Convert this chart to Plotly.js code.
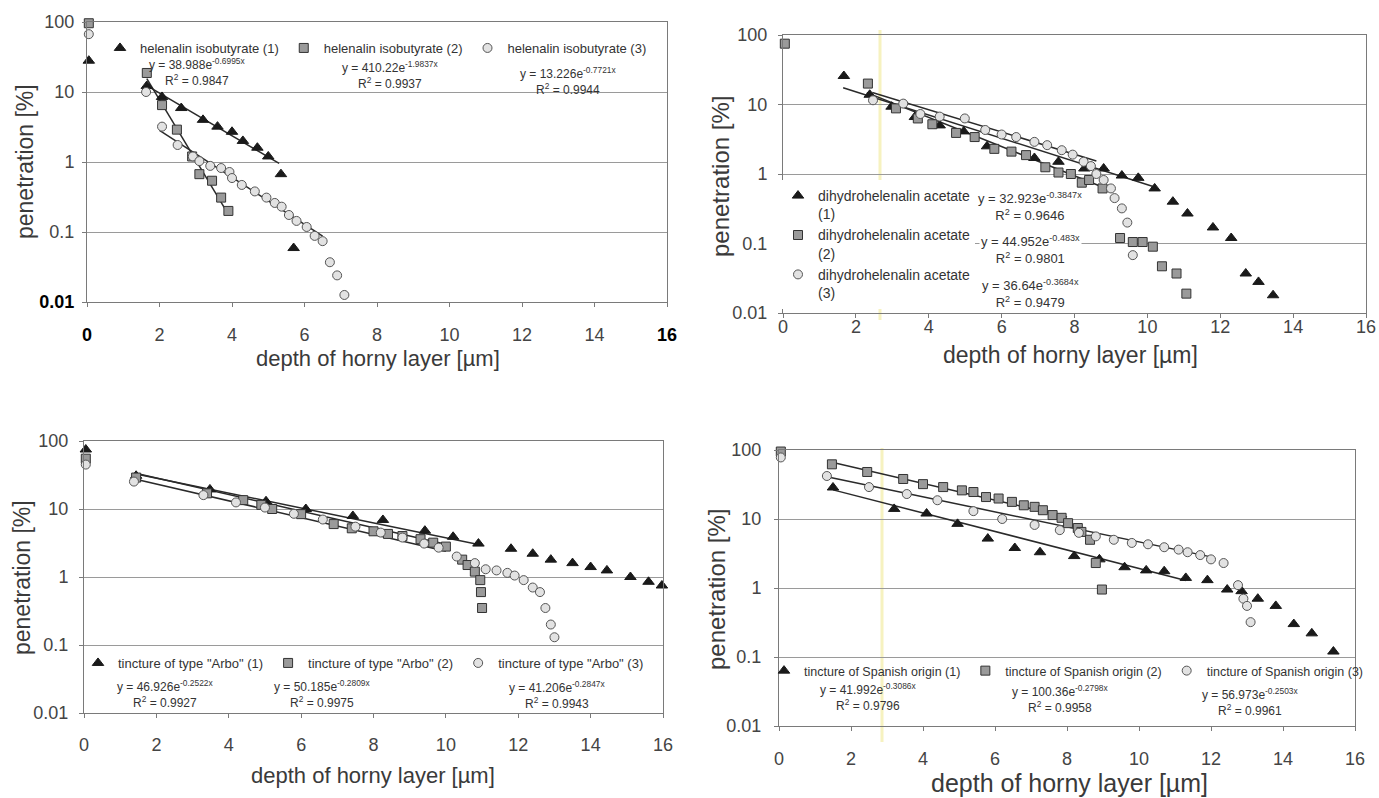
<!DOCTYPE html>
<html>
<head>
<meta charset="utf-8">
<script src="https://cdn.plot.ly/plotly-3.0.1.min.js"></script>
<style>html,body{margin:0;padding:0;background:#fff;overflow:hidden;}#chart{width:1379px;height:798px;}</style>
</head>
<body>
<div id="chart"></div>
<script>
// ---------- DATA ----------
const xTicks = [0, 2, 4, 6, 8, 10, 12, 14, 16];
const yTicks = [0.01, 0.1, 1, 10, 100];
const yTickText = ["0.01", "0.1", "1", "10", "100"];

// Panel A: helenalin isobutyrate
const hibNames = ["helenalin isobutyrate (1)", "helenalin isobutyrate (2)", "helenalin isobutyrate (3)"];
const hib1X = [0.05, 1.65, 2.07, 2.6, 3.2, 3.6, 4.0, 4.3, 4.7, 5.0, 5.35, 5.7];
const hib1Y = [28, 12.2, 8.5, 5.9, 4.0, 3.2, 2.7, 2.0, 1.6, 1.2, 0.67, 0.059];
const hib2X = [0.05, 1.65, 2.07, 2.48, 2.9, 3.1, 3.45, 3.7, 3.9];
const hib2Y = [96, 18.7, 6.5, 2.9, 1.2, 0.67, 0.54, 0.31, 0.2];
const hib3X = [0.05, 1.63, 2.07, 2.5, 2.92, 3.1, 3.4, 3.7, 3.93, 4.0, 4.27, 4.63, 4.95, 5.18, 5.37, 5.57, 5.78, 6.06, 6.28, 6.5, 6.7, 6.9, 7.1];
const hib3Y = [67, 10, 3.2, 1.75, 1.2, 1.03, 0.88, 0.82, 0.72, 0.59, 0.47, 0.38, 0.31, 0.26, 0.23, 0.175, 0.144, 0.118, 0.088, 0.074, 0.037, 0.024, 0.0126];
const hibA = [38.988, 410.22, 13.226];
const hibB = [-0.6995, -1.9837, -0.7721];
const hibR2 = ["0.9847", "0.9937", "0.9944"];
const hibFitFrom = [1.65, 1.65, 2.0];
const hibFitTo = [5.3, 3.9, 6.5];

// Panel B: dihydrohelenalin acetate
const dhaNames = ["dihydrohelenalin acetate<br>(1)", "dihydrohelenalin acetate<br>(2)", "dihydrohelenalin acetate<br>(3)"];
const dha1X = [1.67, 2.38, 2.98, 3.62, 4.3, 4.96, 5.6, 6.9, 7.56, 8.27, 8.8, 9.3, 9.75, 10.2, 10.7, 11.1, 11.8, 12.3, 12.7, 13.05, 13.45];
const dha1Y = [25.7, 13.8, 9.3, 6.6, 5.0, 4.1, 2.5, 1.7, 1.5, 1.2, 1.2, 0.95, 0.88, 0.62, 0.4, 0.27, 0.17, 0.12, 0.037, 0.028, 0.018];
const dha2X = [0.05, 2.33, 3.1, 3.7, 4.1, 4.75, 5.26, 5.8, 6.27, 6.67, 7.2, 7.56, 7.9, 8.2, 8.4, 8.77, 9.25, 9.6, 9.87, 10.15, 10.4, 10.8, 11.07];
const dha2Y = [75, 20, 8.8, 6.3, 5.2, 3.9, 3.4, 2.3, 2.1, 1.87, 1.25, 1.05, 1.0, 0.75, 0.82, 0.62, 0.12, 0.105, 0.105, 0.09, 0.047, 0.037, 0.019];
const dha3X = [2.47, 3.3, 3.77, 4.3, 4.99, 5.55, 6.0, 6.4, 6.9, 7.25, 7.65, 7.95, 8.25, 8.45, 8.6, 8.8, 9.0, 9.1, 9.3, 9.45, 9.6];
const dha3Y = [11.5, 10.3, 7.3, 6.7, 6.3, 4.3, 3.7, 3.4, 2.9, 2.6, 2.2, 1.9, 1.5, 1.3, 1.0, 0.82, 0.62, 0.45, 0.32, 0.2, 0.068];
const dhaA = [32.923, 44.952, 36.64];
const dhaB = [-0.3847, -0.483, -0.3684];
const dhaR2 = ["0.9646", "0.9801", "0.9479"];
const dhaFitFrom = [1.65, 2.3, 2.45];
const dhaFitTo = [10.2, 8.8, 8.6];

// Panel C: tincture of type "Arbo"
const arbNames = ["tincture of type \"Arbo\" (1)", "tincture of type \"Arbo\" (2)", "tincture of type \"Arbo\" (3)"];
const arb1X = [0.05, 1.44, 3.48, 5.03, 6.13, 7.43, 8.26, 9.42, 10.2, 10.9, 11.8, 12.4, 12.9, 13.5, 14.0, 14.45, 15.1, 15.6, 15.97];
const arb1Y = [75, 30.8, 19.4, 13, 10, 7.9, 6.9, 4.8, 3.9, 3.1, 2.6, 2.2, 1.8, 1.6, 1.4, 1.25, 1.0, 0.85, 0.75];
const arb2X = [0.05, 1.44, 3.4, 4.4, 4.9, 5.2, 6.0, 6.9, 7.4, 8.0, 8.4, 8.8, 9.3, 9.65, 10.0, 10.45, 10.6, 10.8, 10.95, 10.97, 11.0];
const arb2Y = [55, 29, 17, 13.5, 11.5, 10, 8.4, 6, 5.2, 4.7, 4.3, 4.0, 3.6, 3.2, 2.8, 1.8, 1.5, 1.2, 0.9, 0.6, 0.35];
const arb3X = [0.05, 1.38, 3.3, 4.2, 5.0, 5.8, 6.6, 7.5, 8.2, 8.8, 9.4, 9.8, 10.3, 10.8, 11.1, 11.4, 11.7, 11.9, 12.15, 12.4, 12.6, 12.75, 12.9, 13.0];
const arb3Y = [45, 25.3, 16, 12.5, 10.5, 8.5, 7, 5.5, 4.5, 3.8, 3.1, 2.7, 2.0, 1.6, 1.3, 1.25, 1.15, 1.05, 0.9, 0.7, 0.6, 0.35, 0.2, 0.13];
const arbA = [46.926, 50.185, 41.206];
const arbB = [-0.2522, -0.2809, -0.2847];
const arbR2 = ["0.9927", "0.9975", "0.9943"];
const arbFitFrom = [1.44, 1.4, 1.4];
const arbFitTo = [10.9, 10.0, 10.0];

// Panel D: tincture of Spanish origin
const spaNames = ["tincture of Spanish origin (1)", "tincture of Spanish origin (2)", "tincture of Spanish origin (3)"];
const spa1X = [1.5, 3.2, 4.1, 4.96, 5.8, 6.55, 7.25, 8.2, 8.9, 9.6, 10.2, 10.7, 11.3, 11.9, 12.45, 12.85, 13.3, 13.8, 14.3, 14.8, 15.4];
const spa1Y = [28.6, 14, 12, 8.5, 5.2, 3.8, 3.3, 2.9, 2.6, 2.0, 1.8, 1.75, 1.4, 1.3, 0.95, 0.9, 0.7, 0.55, 0.3, 0.22, 0.12];
const spa2X = [0.05, 1.47, 2.45, 3.45, 4.0, 4.56, 5.08, 5.4, 5.75, 6.1, 6.47, 6.8, 7.1, 7.33, 7.6, 7.85, 8.03, 8.3, 8.4, 8.64, 8.8, 8.97];
const spa2Y = [95, 62, 48, 38, 32, 29, 26, 24.6, 20.8, 19.8, 17.7, 15.8, 15, 13.4, 11.4, 10.4, 8.7, 7.4, 6.5, 5.0, 2.3, 0.95];
const spa3X = [0.05, 1.33, 2.5, 3.55, 4.4, 5.4, 6.2, 7.1, 7.8, 8.33, 8.8, 9.3, 9.8, 10.25, 10.7, 11.1, 11.35, 11.7, 12.0, 12.35, 12.75, 12.9, 13.0, 13.1];
const spa3Y = [78, 42, 29, 23, 18.7, 13, 10, 8.2, 6.9, 6.3, 5.6, 5.0, 4.5, 4.3, 3.9, 3.6, 3.3, 3.0, 2.6, 2.3, 1.1, 0.7, 0.55, 0.32];
const spaA = [41.992, 100.36, 56.973];
const spaB = [-0.3086, -0.2798, -0.2503];
const spaR2 = ["0.9796", "0.9958", "0.9961"];
const spaFitFrom = [1.5, 1.47, 1.33];
const spaFitTo = [11.3, 8.0, 12.0];

const xTitle = "depth of horny layer [µm]";
const yTitle = "penetration [%]";

// ---------- STYLE / BUILD ----------
const W = 1379, H = 798;
const px = v => v / W;
const py = v => 1 - v / H;
const FONT = "Liberation Sans, Arial, sans-serif";
const TXT = "#3a3a3a";

const markerStyles = [
  {symbol: "triangle-up", size: 10, color: "#1a1a1a", line: {color: "#1a1a1a", width: 1}},
  {symbol: "square", size: 9, color: "#9a9a9a", line: {color: "#333", width: 1}},
  {symbol: "circle", size: 9, color: "#e2e2e2", line: {color: "#555", width: 1}}
];

const panels = [
  {xs: [hib1X, hib2X, hib3X], ys: [hib1Y, hib2Y, hib3Y], names: hibNames, A: hibA, B: hibB, R2: hibR2, f0: hibFitFrom, f1: hibFitTo,
   xa: "x", ya: "y", legend: "legend",
   dom: {x: [87, 667], y: [22, 302]}, xStand: 12, yStand: 4,
   eq: [[197, 72], [390, 75], [568, 81]], eqSize: 12, eqBg: "rgba(0,0,0,0)",
   yt: [25, 162, 23], xt: [378, 358, 22]},
  {xs: [dha1X, dha2X, dha3X], ys: [dha1Y, dha2Y, dha3Y], names: dhaNames, A: dhaA, B: dhaB, R2: dhaR2, f0: dhaFitFrom, f1: dhaFitTo,
   xa: "x2", ya: "y2", legend: "legend2",
   dom: {x: [783, 1366], y: [35, 313]}, xStand: -7, yStand: 7,
   eq: [[1030, 206], [1030, 250], [1030, 293]], eqSize: 13, eqBg: "#ffffff",
   yt: [720, 176, 24], xt: [1070, 355, 23]},
  {xs: [arb1X, arb2X, arb3X], ys: [arb1Y, arb2Y, arb3Y], names: arbNames, A: arbA, B: arbB, R2: arbR2, f0: arbFitFrom, f1: arbFitTo,
   xa: "x3", ya: "y3", legend: "legend3",
   dom: {x: [84, 663], y: [441, 713]}, xStand: 11, yStand: 7,
   eq: [[165, 694], [322, 694], [557, 695]], eqSize: 12, eqBg: "rgba(0,0,0,0)",
   yt: [22, 578, 23], xt: [373, 775, 22]},
  {xs: [spa1X, spa2X, spa3X], ys: [spa1Y, spa2Y, spa3Y], names: spaNames, A: spaA, B: spaB, R2: spaR2, f0: spaFitFrom, f1: spaFitTo,
   xa: "x4", ya: "y4", legend: "legend4",
   dom: {x: [779, 1355], y: [450, 726]}, xStand: 12, yStand: 9,
   eq: [[868, 697], [1060, 699], [1250, 702]], eqSize: 12, eqBg: "rgba(0,0,0,0)",
   yt: [716, 590, 24], xt: [1069, 783, 25]}
];

const traces = [];
const annotations = [];
const layout = {
  width: W, height: H,
  margin: {l: 0, r: 0, t: 0, b: 0, pad: 0, autoexpand: false},
  paper_bgcolor: "#ffffff", plot_bgcolor: "rgba(0,0,0,0)",
  font: {family: FONT, color: TXT},
  showlegend: true,
  annotations: annotations,
  shapes: [
    {type: "line", xref: "paper", yref: "paper", x0: px(880), x1: px(880), y0: py(320), y1: py(30),
     line: {color: "rgba(238,232,140,0.55)", width: 3}, layer: "below"},
    {type: "line", xref: "paper", yref: "paper", x0: px(882), x1: px(882), y0: py(742), y1: py(448),
     line: {color: "rgba(238,232,140,0.55)", width: 3}, layer: "below"}
  ]
};

function fmtExp(b) { return (b < 0 ? "-" : "") + Math.abs(b) + "x"; }

panels.forEach((p, pi) => {
  const suffix = pi === 0 ? "" : String(pi + 1);
  const xTickText = xTicks.map(String);
  let yTT = yTickText.slice();
  if (pi === 0) {
    xTickText[0] = "<b><span style='color:#000'>0</span></b>";
    xTickText[xTickText.length - 1] = "<b><span style='color:#000'>16</span></b>";
    yTT[0] = "<b><span style='color:#000'>0.01</span></b>";
  }
  layout["xaxis" + suffix] = {
    domain: [px(p.dom.x[0]), px(p.dom.x[1])], anchor: p.ya,
    range: [0, 16], tickmode: "array", tickvals: xTicks, ticktext: xTickText,
    showgrid: false, zeroline: false, showline: true, mirror: true,
    linecolor: "#7a7a7a", linewidth: 1, ticks: "outside", ticklen: 4, tickcolor: "#7a7a7a",
    tickfont: {size: 18, color: "#444", family: FONT}, ticklabelstandoff: p.xStand, fixedrange: true
  };
  layout["yaxis" + suffix] = {
    domain: [py(p.dom.y[1]), py(p.dom.y[0])], anchor: p.xa,
    type: "log", range: [-2, 2], tickmode: "array", tickvals: yTicks, ticktext: yTT,
    showgrid: true, gridcolor: "#9a9a9a", gridwidth: 1, zeroline: false,
    showline: true, mirror: true, linecolor: "#7a7a7a", linewidth: 1,
    ticks: "outside", ticklen: 4, tickcolor: "#7a7a7a",
    tickfont: {size: 18, color: "#444", family: FONT}, ticklabelstandoff: p.yStand, fixedrange: true
  };
  // fitted trend lines (from the printed regression equations)
  for (let s = 0; s < 3; s++) {
    const fx = [p.f0[s], p.f1[s]];
    traces.push({
      x: fx, y: fx.map(v => p.A[s] * Math.exp(p.B[s] * v)),
      xaxis: p.xa, yaxis: p.ya, mode: "lines", showlegend: false, hoverinfo: "skip",
      line: {color: "#2a2a2a", width: 1.5}
    });
  }
  // measured points
  for (let s = 0; s < 3; s++) {
    traces.push({
      x: p.xs[s], y: p.ys[s], name: p.names[s],
      xaxis: p.xa, yaxis: p.ya, mode: "markers", legend: p.legend,
      marker: markerStyles[s], cliponaxis: false
    });
  }
  // equations
  for (let s = 0; s < 3; s++) {
    annotations.push({
      xref: "paper", yref: "paper", x: px(p.eq[s][0]), y: py(p.eq[s][1]),
      xanchor: "center", yanchor: "middle", showarrow: false, align: "center",
      text: "y = " + p.A[s] + "e<sup>" + fmtExp(p.B[s]) + "</sup><br>R<sup>2</sup> = " + p.R2[s],
      font: {size: p.eqSize, color: "#333", family: FONT}, bgcolor: p.eqBg
    });
  }
  // axis titles
  annotations.push({
    xref: "paper", yref: "paper", x: px(p.yt[0]), y: py(p.yt[1]), xanchor: "center", yanchor: "middle",
    textangle: -90, showarrow: false, text: yTitle, font: {size: p.yt[2], color: "#3a3a3a", family: FONT}
  });
  annotations.push({
    xref: "paper", yref: "paper", x: px(p.xt[0]), y: py(p.xt[1]), xanchor: "center", yanchor: "middle",
    showarrow: false, text: xTitle, font: {size: p.xt[2], color: "#3a3a3a", family: FONT}
  });
});

layout.legend = {x: px(100), y: py(33), xanchor: "left", yanchor: "top", orientation: "h",
  font: {size: 13, color: "#333", family: FONT}, bgcolor: "rgba(0,0,0,0)", itemwidth: 30};
layout.legend2 = {x: px(778), y: py(180), xanchor: "left", yanchor: "top", orientation: "v", valign: "top",
  font: {size: 14, color: "#333", family: FONT}, bgcolor: "#ffffff", itemwidth: 30, tracegroupgap: 6};
layout.legend3 = {x: px(78), y: py(648), xanchor: "left", yanchor: "top", orientation: "h",
  font: {size: 13, color: "#333", family: FONT}, bgcolor: "rgba(0,0,0,0)", itemwidth: 30};
layout.legend4 = {x: px(764), y: py(656), xanchor: "left", yanchor: "top", orientation: "h",
  font: {size: 12.5, color: "#333", family: FONT}, bgcolor: "rgba(0,0,0,0)", itemwidth: 30};

Plotly.newPlot("chart", traces, layout, {displayModeBar: false, staticPlot: true});
</script>
</body>
</html>
